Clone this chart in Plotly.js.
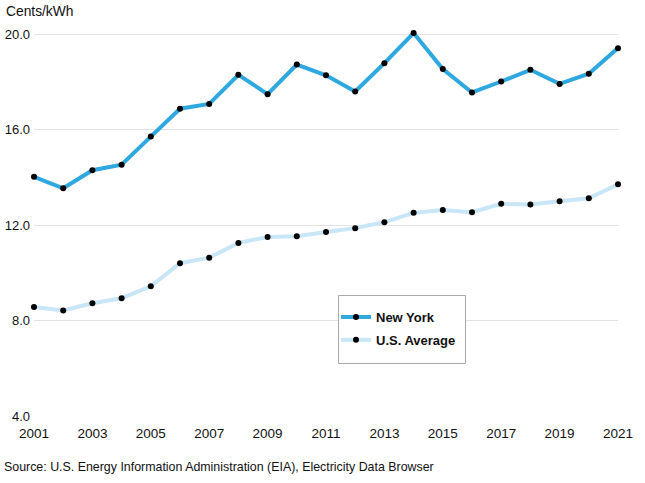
<!DOCTYPE html>
<html>
<head>
<meta charset="utf-8">
<script src="https://cdn.plot.ly/plotly-3.0.1.min.js"></script>
<style>html,body{margin:0;padding:0;background:#fff;}#chart{width:645px;height:483px;}</style>
</head>
<body>
<div id="chart"></div>
<script>
const years = [2001,2002,2003,2004,2005,2006,2007,2008,2009,2010,2011,2012,2013,2014,2015,2016,2017,2018,2019,2020,2021];
const newYork = [14.03,13.55,14.31,14.54,15.72,16.89,17.09,18.31,17.50,18.74,18.29,17.61,18.80,20.06,18.55,17.57,18.03,18.52,17.93,18.36,19.43];
const usAverage = [8.57,8.43,8.73,8.94,9.44,10.41,10.64,11.26,11.51,11.54,11.72,11.88,12.13,12.52,12.64,12.55,12.90,12.87,13.01,13.13,13.72];
const yTicks = [4,8,12,16,20];
const xTicks = [2001,2003,2005,2007,2009,2011,2013,2015,2017,2019,2021];

const font = 'Liberation Sans, Arial, Helvetica, sans-serif';
const H = 391, W = 584, T = 25, L = 34;

const traces = [
  {
    x: years, y: newYork, name: 'New York', type: 'scatter', mode: 'lines+markers',
    legendgroup: 'ny',
    line: {color: '#2fa8e0', width: 4},
    marker: {color: '#000000', size: 6},
    cliponaxis: false
  },
  {
    x: years, y: usAverage, name: 'U.S. Average', type: 'scatter', mode: 'lines+markers',
    legendgroup: 'us',
    line: {color: '#c8e6f6', width: 4},
    marker: {color: '#000000', size: 6},
    cliponaxis: false
  }
];

const layout = {
  width: 645, height: 483,
  margin: {l: L, r: 27, t: T, b: 67},
  paper_bgcolor: '#ffffff', plot_bgcolor: '#ffffff',
  font: {family: font, size: 13, color: '#111111'},
  showlegend: true,
  legend: {
    x: (336 - L)/W, xref: 'paper', xanchor: 'left',
    y: 1 - (302 - T)/H, yanchor: 'top',
    borderwidth: 0, bgcolor: 'rgba(0,0,0,0)',
    font: {family: font, size: 13, color: '#111111', weight: 'bold'},
    traceorder: 'grouped',
    tracegroupgap: 3,
    itemwidth: 30
  },
  shapes: [
    {type: 'rect', xref: 'paper', yref: 'paper',
     x0: (338.5 - L)/W, x1: (465.5 - L)/W,
     y0: 1 - (363.5 - T)/H, y1: 1 - (295.5 - T)/H,
     line: {color: '#a8a8a8', width: 1}, fillcolor: '#ffffff', layer: 'above'}
  ],
  xaxis: {
    range: [2001, 2021],
    tickvals: xTicks, ticktext: xTicks.map(String),
    showgrid: false, zeroline: false, showline: false,
    ticks: '', tickfont: {family: font, size: 13.5, color: '#111111'},
    ticklabelstandoff: 7,
    fixedrange: true
  },
  yaxis: {
    range: [4, 20.4],
    tickvals: yTicks, ticktext: yTicks.map(v => v.toFixed(1)),
    showgrid: true, gridcolor: '#e2e2e2', gridwidth: 1,
    zeroline: false, showline: false, ticks: '',
    tickfont: {family: font, size: 13, color: '#111111'},
    ticklabelstandoff: 3,
    fixedrange: true
  },
  annotations: [
    {text: 'Cents/kWh', xref: 'paper', yref: 'paper', x: -(L - 4)/W, y: 1 + (T - 12)/H,
     xanchor: 'left', yanchor: 'middle', showarrow: false,
     font: {family: font, size: 13.8, color: '#111111'}},
    {text: 'Source: U.S. Energy Information Administration (EIA), Electricity Data Browser',
     xref: 'paper', yref: 'paper', x: -(L - 2)/W, y: -(467 - 416)/H,
     xanchor: 'left', yanchor: 'middle', showarrow: false,
     font: {family: font, size: 12.4, color: '#111111'}}
  ]
};

Plotly.newPlot('chart', traces, layout, {displayModeBar: false, staticPlot: true});
</script>
</body>
</html>
